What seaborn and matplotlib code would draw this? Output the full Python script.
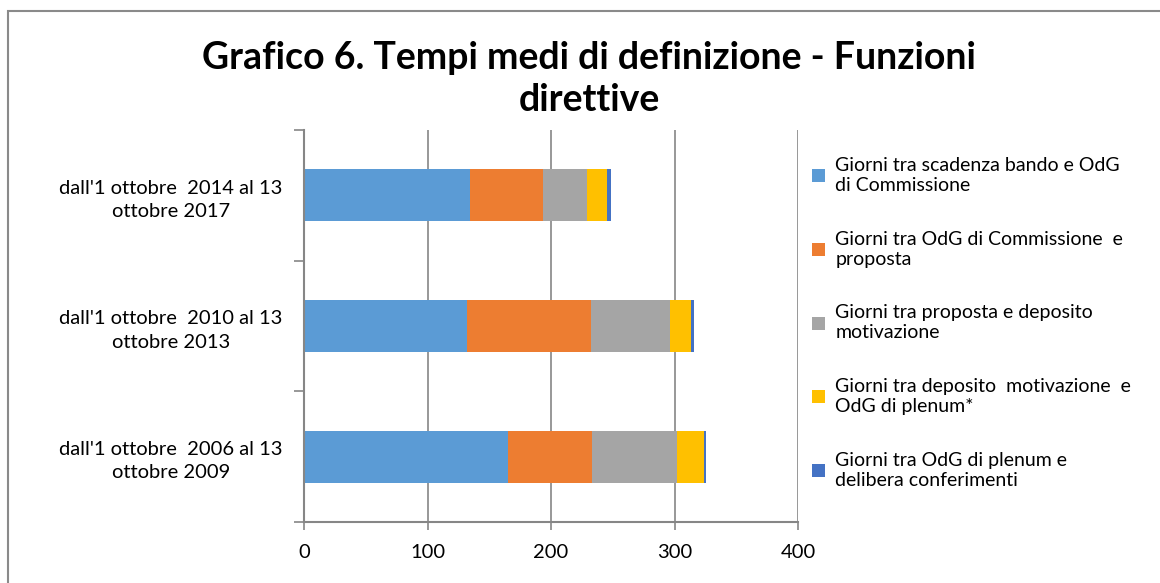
import matplotlib
matplotlib.use("Agg")
import matplotlib.pyplot as plt
import seaborn as sns
import pandas as pd
import numpy as np
from matplotlib.patches import Rectangle, Patch

periods = ["dall'1 ottobre  2014 al 13\nottobre 2017",
           "dall'1 ottobre  2010 al 13\nottobre 2013",
           "dall'1 ottobre  2006 al 13\nottobre 2009"]
series = ["Giorni tra scadenza bando e OdG\ndi Commissione",
          "Giorni tra OdG di Commissione  e\nproposta",
          "Giorni tra proposta e deposito\nmotivazione",
          "Giorni tra deposito  motivazione  e\nOdG di plenum*",
          "Giorni tra OdG di plenum e\ndelibera conferimenti"]
scadenza_odg = [134.3, 131.9, 164.8]
odg_proposta = [59.5, 100.2, 68.7]
proposta_deposito = [35.3, 64.4, 68.7]
deposito_plenum = [16.6, 16.7, 21.8]
plenum_delibera = [2.7, 2.7, 1.3]
colors = ["#5B9BD5", "#ED7D31", "#A5A5A5", "#FFC000", "#4472C4"]
xticks = [0, 100, 200, 300, 400]

values = [scadenza_odg, odg_proposta, proposta_deposito, deposito_plenum, plenum_delibera]

sns.set_style("white")
plt.rcParams['font.family'] = ['Lato', 'DejaVu Sans']
plt.rcParams['text.color'] = 'black'
plt.rcParams['xtick.color'] = 'black'
plt.rcParams['ytick.color'] = 'black'

fig = plt.figure(figsize=(11.6, 5.83), dpi=100)
ax = fig.add_axes([304/1160, 61/583, 494/1160, 392/583])

cum = np.cumsum(np.array(values), axis=0)
for i in range(len(series) - 1, -1, -1):
    df = pd.DataFrame({"periodo": periods, "giorni": cum[i]})
    sns.barplot(data=df, x="giorni", y="periodo", order=periods, orient="h",
                color=colors[i], saturation=1, width=0.4, ax=ax,
                edgecolor="none", linewidth=0)

ax.set_xlim(0, 400)
ax.set_ylim(2.5, -0.5)
ax.set_xticks(xticks)
ax.set_xticklabels([str(t) for t in xticks], fontsize=14.5)
ax.set_yticks(range(len(periods)))
ax.set_yticklabels(periods, fontsize=14.5, ha="center", linespacing=1.45)
ax.tick_params(axis="y", length=0, pad=96)
ax.set_yticks([-0.5, 0.5, 1.5, 2.5], minor=True)
ax.tick_params(axis="y", which="minor", length=7, color="#868686", width=1.2, direction="out", left=True)
ax.tick_params(axis="x", length=6, color="#868686", labelcolor="black", width=1.2, direction="out", bottom=True, pad=10)
ax.set_xlabel("")
ax.set_ylabel("")
ax.grid(axis="x", color="#868686", linewidth=1.2)
ax.set_axisbelow(True)
for s in ["top", "right"]:
    ax.spines[s].set_visible(False)
for s in ["left", "bottom"]:
    ax.spines[s].set_color("#868686")
    ax.spines[s].set_linewidth(1.5)

handles = [Patch(facecolor=c, edgecolor="none") for c in colors]
leg = fig.legend(handles, series, loc="upper left", bbox_to_anchor=(812/1160, 1 - 157/583),
                 frameon=False, fontsize=14, handlelength=0.65, handleheight=0.65,
                 handletextpad=0.55, labelspacing=1.9, borderaxespad=0, borderpad=0,
                 labelcolor="black")

fig.text(589/1160, 1 - 79/583, "Grafico 6. Tempi medi di definizione - Funzioni\ndirettive",
         ha="center", va="center", fontsize=27, fontweight="bold", linespacing=1.3,
         color="black")

fig.patches.append(Rectangle((8/1160, -0.1), 1.2, 1 - 11/583 + 0.1, transform=fig.transFigure,
                             fill=False, edgecolor="#8a8a8a", linewidth=1.5))

fig.savefig("out.png", dpi=100)
